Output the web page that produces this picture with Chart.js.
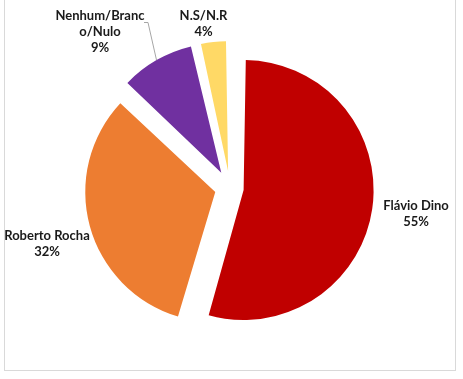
<!DOCTYPE html>
<html>
<head>
<meta charset="utf-8">
<script src="https://cdn.jsdelivr.net/npm/chart.js@4.4.1/dist/chart.umd.min.js"></script>
<style>
  html, body { margin: 0; padding: 0; background: #fff; }
  #wrap { position: relative; width: 463px; height: 379px; }
  #frame { position: absolute; left: 4px; top: -1px; width: 452px; height: 372px; border: 1px solid #d9d9d9; box-sizing: border-box; }
  canvas { position: absolute; left: 0; top: 0; }
</style>
</head>
<body>
<div id="wrap">
  <div id="frame"></div>
  <canvas id="chart" width="463" height="379"></canvas>
</div>
<script>
const categories = ['Flávio Dino', 'Roberto Rocha', 'Nenhum/Branco/Nulo', 'N.S/N.R'];
const values = [54.6, 32.4, 9.4, 3.6];
const colors = ['#C00000', '#ED7D31', '#7030A0', '#FFD966'];

// explosion per slice (chart.js offset, drawn as offset / 4 px)
const explode = [55, 61, 70, 68];
const pieRadius = 130;

// label placement relative to the pie centre, wrap points, leader lines
const labelAnchors = [[186, 26], [-183, 56], [-130, -156.5], [-26.5, -164.6]];
const labelWrap = [0, 0, 12, 0];
const labelLeader = [false, false, true, false];
const lineHeight = 16;

const total = values.reduce((a, b) => a + b, 0);

// keep every slice at the same radius (chart.js grows exploded arcs)
const evenRadius = {
  id: 'evenRadius',
  beforeDatasetsDraw(chart) {
    chart.getDatasetMeta(0).data.forEach((arc) => {
      const off = (arc.options.offset || 0) / 4;
      const span = arc.endAngle - arc.startAngle;
      const fix = 1 - Math.sin(Math.min(Math.PI, span));
      arc.outerRadius = pieRadius - off * fix;
    });
  },
};

const sliceLabels = {
  id: 'sliceLabels',
  afterDatasetsDraw(chart) {
    const ctx = chart.ctx;
    const meta = chart.getDatasetMeta(0);
    ctx.save();
    ctx.font = 'bold 13px Lato';
    ctx.fillStyle = '#1a1a1a';
    ctx.textAlign = 'center';
    ctx.textBaseline = 'middle';
    meta.data.forEach((arc, i) => {
      const name = categories[i];
      const lines = labelWrap[i] ? [name.slice(0, labelWrap[i]), name.slice(labelWrap[i])] : [name];
      lines.push(Math.round(values[i] / total * 100) + '%');
      const cx = arc.x + labelAnchors[i][0];
      const cy = arc.y + labelAnchors[i][1];
      const top = cy - (lines.length - 1) * lineHeight / 2;
      lines.forEach((t, j) => ctx.fillText(t, cx, top + j * lineHeight));

      if (labelLeader[i]) {
        const mid = (arc.startAngle + arc.endAngle) / 2;
        const d = (arc.options.offset || 0) / 4 + pieRadius;
        const sx = cx + 44, sy = top + 7;
        ctx.strokeStyle = '#a6a6a6';
        ctx.lineWidth = 1;
        ctx.beginPath();
        ctx.moveTo(sx, sy);
        ctx.lineTo(sx + 4, sy);
        ctx.lineTo(arc.x + Math.cos(mid) * d, arc.y + Math.sin(mid) * d);
        ctx.stroke();
      }
    });
    ctx.restore();
  },
};

new Chart(document.getElementById('chart'), {
  type: 'pie',
  data: {
    labels: categories,
    datasets: [{
      data: values,
      backgroundColor: colors,
      borderWidth: 0,
      offset: explode,
    }],
  },
  options: {
    responsive: false,
    animation: false,
    radius: pieRadius,
    layout: { padding: { left: 0, right: 3, top: 0, bottom: 3 } },
    plugins: {
      legend: { display: false },
      tooltip: { enabled: false },
    },
  },
  plugins: [evenRadius, sliceLabels],
});
</script>
</body>
</html>
